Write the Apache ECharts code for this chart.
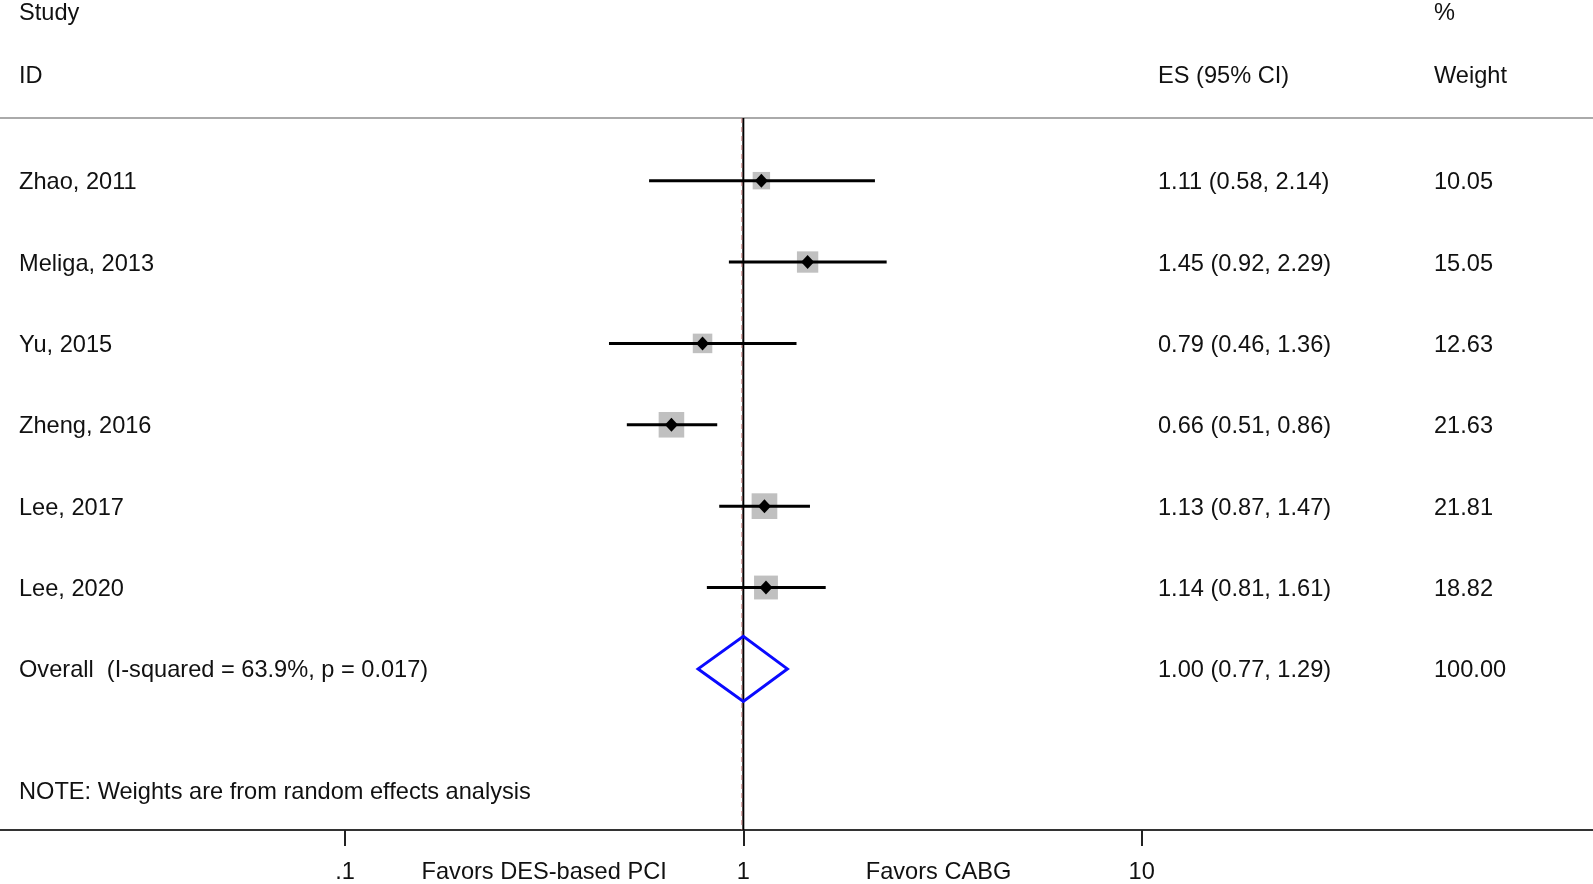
<!DOCTYPE html>
<html><head><meta charset="utf-8">
<script src="https://cdn.jsdelivr.net/npm/echarts@6/dist/echarts.min.js"></script>
<style>html,body{margin:0;padding:0;background:#fff}#c{width:1593px;height:884px}</style>
</head><body><div id="c"></div>
<script>
// ---- data ----
const studies = ['Zhao, 2011', 'Meliga, 2013', 'Yu, 2015', 'Zheng, 2016', 'Lee, 2017', 'Lee, 2020'];
const es      = [1.11, 1.45, 0.79, 0.66, 1.13, 1.14];
const ciLow   = [0.58, 0.92, 0.46, 0.51, 0.87, 0.81];
const ciHigh  = [2.14, 2.29, 1.36, 0.86, 1.47, 1.61];
const weights = [10.05, 15.05, 12.63, 21.63, 21.81, 18.82];
const overallLabel = 'Overall  (I-squared = 63.9%, p = 0.017)';
const overallES = 1.00, overallLow = 0.77, overallHigh = 1.29, overallWeight = 100.00;
const nullValue = 1;
const headerStudy = ['Study', 'ID'];
const headerES = 'ES (95% CI)';
const headerWeight = ['%', 'Weight'];
const noteText = 'NOTE: Weights are from random effects analysis';
const tickValues = [0.1, 1, 10];
const tickLabels = ['.1', '1', '10'];
const favorLabels = ['Favors DES-based PCI', 'Favors CABG'];

// ---- layout / style ----
const FONT = '"Liberation Sans", Arial, Helvetica, sans-serif';
const FS = 23.6;
const COL_STUDY = 19, COL_ES = 1158, COL_W = 1434;
const TEXT_DY = 2;
const ROW_HDR1 = -2.08, ROW_HDR2 = -1.30, ROW_NOTE = 7.5;
const Y_MIN = -0.77, Y_MAX = 7.98;
const X_MIN = -1.866, X_MAX = 2.133;
const lg = v => Math.log10(v);
const f2 = v => v.toFixed(2);

const nRows = studies.length;
const cells = [
  {text: headerStudy[0], x: COL_STUDY, row: ROW_HDR1},
  {text: headerStudy[1], x: COL_STUDY, row: ROW_HDR2},
  {text: headerES, x: COL_ES, row: ROW_HDR2},
  {text: headerWeight[0], x: COL_W, row: ROW_HDR1},
  {text: headerWeight[1], x: COL_W, row: ROW_HDR2},
];
studies.forEach((s, i) => {
  cells.push({text: s, x: COL_STUDY, row: i});
  cells.push({text: f2(es[i]) + ' (' + f2(ciLow[i]) + ', ' + f2(ciHigh[i]) + ')', x: COL_ES, row: i});
  cells.push({text: f2(weights[i]), x: COL_W, row: i});
});
cells.push({text: overallLabel, x: COL_STUDY, row: nRows});
cells.push({text: f2(overallES) + ' (' + f2(overallLow) + ', ' + f2(overallHigh) + ')', x: COL_ES, row: nRows});
cells.push({text: f2(overallWeight), x: COL_W, row: nRows});
cells.push({text: noteText, x: COL_STUDY, row: ROW_NOTE});

const tickLog = tickValues.map(lg);
const favorLog = [ (tickLog[0] + tickLog[1]) / 2, (tickLog[1] + tickLog[2]) / 2 - 0.01 ];
const labelMap = {};
tickLog.forEach((v, i) => labelMap[v.toFixed(3)] = tickLabels[i]);
favorLog.forEach((v, i) => labelMap[v.toFixed(3)] = favorLabels[i]);

const chart = echarts.init(document.getElementById('c'), null, {renderer: 'canvas'});
chart.setOption({
  animation: false,
  backgroundColor: '#fff',
  grid: {left: 0, right: 0, top: 118, bottom: 52, containLabel: false},
  xAxis: [{
    type: 'value', min: X_MIN, max: X_MAX, position: 'bottom',
    splitLine: {show: false},
    axisLine: {show: true, onZero: false, lineStyle: {color: '#333', width: 2}},
    axisTick: {show: true, customValues: tickLog, length: 16, lineStyle: {color: '#222', width: 2}},
    axisLabel: {show: true, customValues: tickLog.concat(favorLog), margin: 30,
      color: '#111', fontSize: FS, fontFamily: FONT,
      formatter: v => labelMap[Number(v).toFixed(3)] || ''}
  }, {
    type: 'value', min: X_MIN, max: X_MAX, position: 'top',
    splitLine: {show: false},
    axisLine: {show: true, onZero: false, lineStyle: {color: '#aaa', width: 2}},
    axisTick: {show: false}, axisLabel: {show: false}
  }],
  yAxis: {type: 'value', inverse: true, min: Y_MIN, max: Y_MAX, show: false},
  series: [
    { // null line at 1 and overall dashed line
      type: 'custom', z: 1, data: [[lg(nullValue), 0]],
      renderItem: (p, api) => {
        const t = api.coord([api.value(0), Y_MIN]);
        const b = api.coord([api.value(0), Y_MAX]);
        const o1 = api.coord([lg(overallES), Y_MIN]);
        const o2 = api.coord([lg(overallES), Y_MAX]);
        return {type: 'group', children: [
          {type: 'line', shape: {x1: t[0], y1: t[1], x2: b[0], y2: b[1]}, style: {stroke: '#000', lineWidth: 2}},
          {type: 'line', shape: {x1: o1[0] - 1.5, y1: o1[1], x2: o2[0] - 1.5, y2: o2[1]},
            style: {stroke: '#c46a6a', lineWidth: 1, lineDash: [5, 4], opacity: 0.8}}
        ]};
      }
    },
    { // weight squares
      type: 'scatter', z: 2, symbol: 'rect',
      data: es.map((v, i) => [lg(v), i, weights[i]]),
      symbolSize: v => 5.5 * Math.sqrt(v[2]),
      itemStyle: {color: '#c0c0c0', opacity: 1}
    },
    { // CI lines
      type: 'custom', z: 3,
      data: studies.map((s, i) => [lg(ciLow[i]), lg(ciHigh[i]), i]),
      encode: {x: [0, 1], y: 2},
      renderItem: (p, api) => {
        const a = api.coord([api.value(0), api.value(2)]);
        const b = api.coord([api.value(1), api.value(2)]);
        return {type: 'line', shape: {x1: a[0], y1: a[1], x2: b[0], y2: b[1]}, style: {stroke: '#000', lineWidth: 3}};
      }
    },
    { // point estimates
      type: 'scatter', z: 4, symbol: 'diamond',
      data: es.map((v, i) => [lg(v), i]),
      symbolSize: [13, 14],
      itemStyle: {color: '#000', opacity: 1}
    },
    { // overall diamond
      type: 'custom', z: 5,
      data: [[lg(overallLow), lg(overallES), lg(overallHigh), nRows]],
      encode: {x: [0, 1, 2], y: 3},
      renderItem: (p, api) => {
        const r = api.value(3);
        const pts = [
          api.coord([api.value(0), r]),
          api.coord([api.value(1), r - 0.4]),
          api.coord([api.value(2), r]),
          api.coord([api.value(1), r + 0.4])
        ];
        return {type: 'polygon', shape: {points: pts}, style: {fill: 'none', stroke: '#0a0aff', lineWidth: 3}};
      }
    },
    { // table text
      type: 'custom', z: 6, clip: false,
      data: cells.map(c => [0, c.row]),
      renderItem: (p, api) => {
        const c = cells[p.dataIndex];
        const pt = api.coord([0, c.row]);
        return {type: 'text', x: c.x, y: pt[1] + TEXT_DY, style: {
          text: c.text, fill: '#111', fontSize: FS, fontFamily: FONT,
          align: 'left', verticalAlign: 'middle'}};
      }
    }
  ]
});
</script>
</body></html>
